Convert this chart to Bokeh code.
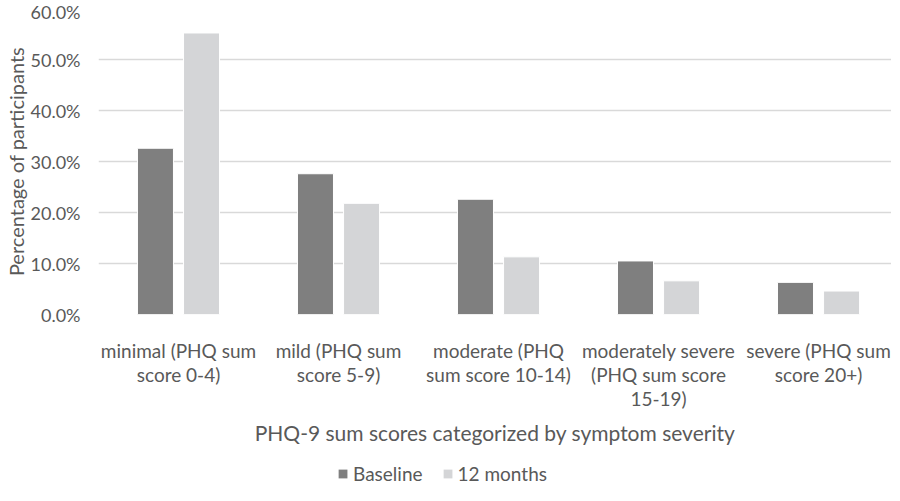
from bokeh.plotting import figure
from bokeh.layouts import column
from bokeh.models import (ColumnDataSource, Range1d, FixedTicker, PrintfTickFormatter,
                          Legend, LegendItem)
from bokeh.transform import dodge
from bokeh.embed import file_html
from bokeh.resources import INLINE

categories = ["minimal (PHQ sum\nscore 0-4)",
              "mild (PHQ sum\nscore 5-9)",
              "moderate (PHQ\nsum score 10-14)",
              "moderately severe\n(PHQ sum score\n15-19)",
              "severe (PHQ sum\nscore 20+)"]
baseline = [32.6, 27.6, 22.6, 10.5, 6.3]
months12 = [55.2, 21.8, 11.3, 6.6, 4.6]
series_names = ["Baseline", "12 months"]
series_colors = ["#7f7f7f", "#d4d5d7"]
y_ticks = [0, 10, 20, 30, 40, 50, 60]

FONT = "Lato"
TXT = "#595959"

xpos = list(range(len(categories)))
src = ColumnDataSource(dict(x=xpos, base=baseline, m12=months12))

p = figure(frame_width=793, frame_height=306, output_backend="svg", toolbar_location=None,
           x_range=Range1d(-0.5, 4.456), y_range=Range1d(0, 60),
           min_border_left=91, min_border_right=0, min_border_top=8,
           min_border_bottom=133, frame_align=False)
p.outline_line_color = None
p.background_fill_color = "white"
p.border_fill_color = "white"

p.vbar(x=dodge("x", -0.144, range=p.x_range), top="base", width=0.225, source=src,
       fill_color=series_colors[0], line_color="#ffffff", line_width=1)
p.vbar(x=dodge("x", 0.144, range=p.x_range), top="m12", width=0.225, source=src,
       fill_color=series_colors[1], line_color="#ffffff", line_width=1)

# grid
p.xgrid.visible = False
p.ygrid.grid_line_color = "#d9d9d9"
p.ygrid.grid_line_width = 1.5

# y axis
p.yaxis.ticker = FixedTicker(ticks=y_ticks)
p.yaxis.formatter = PrintfTickFormatter(format="%.1f%%")
p.yaxis.axis_line_color = None
p.yaxis.major_tick_line_color = None
p.yaxis.minor_tick_line_color = None
p.yaxis.major_label_text_font = FONT
p.yaxis.major_label_text_font_size = "18px"
p.yaxis.major_label_text_color = TXT
p.yaxis.major_label_standoff = 12
p.yaxis.axis_label = "Percentage of participants"
p.yaxis.axis_label_text_font = FONT
p.yaxis.axis_label_text_font_size = "20px"
p.yaxis.axis_label_text_font_style = "normal"
p.yaxis.axis_label_text_color = TXT
p.yaxis.axis_label_standoff = 0

# x axis
p.xaxis.ticker = FixedTicker(ticks=xpos)
p.xaxis.major_label_overrides = {i: c for i, c in zip(xpos, categories)}
p.xaxis.axis_line_color = None
p.xaxis.major_tick_line_color = None
p.xaxis.minor_tick_line_color = None
p.xaxis.major_label_text_font = FONT
p.xaxis.major_label_text_font_size = "19px"
p.xaxis.major_label_text_color = TXT
p.xaxis.major_label_text_line_height = 1.05
p.xaxis.major_label_standoff = 18
p.xaxis.axis_label = "PHQ-9 sum scores categorized by symptom severity"
p.xaxis.axis_label_text_font = FONT
p.xaxis.axis_label_text_font_size = "21px"
p.xaxis.axis_label_text_font_style = "normal"
p.xaxis.axis_label_text_color = TXT
p.xaxis.axis_label_standoff = 7

# legend strip, centred on the whole chart width
pl = figure(width=884, height=38, output_backend="svg", toolbar_location=None,
            x_range=Range1d(0, 1), y_range=Range1d(0, 1),
            min_border_left=0, min_border_right=0, min_border_top=0,
            min_border_bottom=0, frame_align=False)
pl.axis.visible = False
pl.grid.visible = False
pl.outline_line_color = None
items = []
for name, col in zip(series_names, series_colors):
    # legend proxy glyph, placed outside the visible range
    proxy = ColumnDataSource(dict(x=[5], top=[5]))
    rr = pl.vbar(x="x", top="top", width=0.1, source=proxy,
                 fill_color=col, line_color=None)
    items.append(LegendItem(label=name, renderers=[rr]))
legend = Legend(items=items, orientation="horizontal", location="bottom",
                label_text_font=FONT, label_text_font_size="19px",
                label_text_color=TXT, glyph_width=11, glyph_height=11,
                spacing=19, label_standoff=5,
                border_line_color=None, background_fill_alpha=0,
                margin=0, padding=2)
pl.add_layout(legend, "center")

layout = column(p, pl, spacing=0)
open("out.html", "w").write(file_html(layout, INLINE))
